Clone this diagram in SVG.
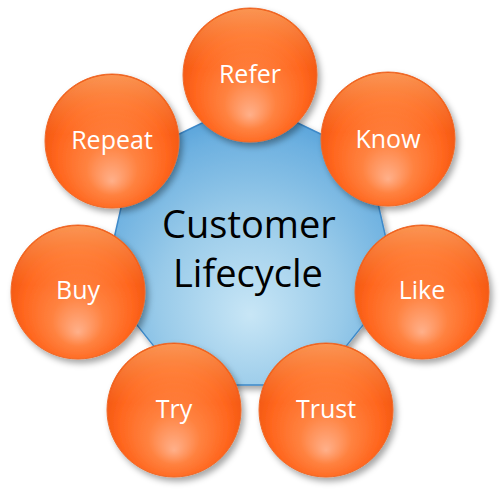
<svg xmlns="http://www.w3.org/2000/svg" width="500" height="491" viewBox="0 0 500 491">
  <defs>
    <radialGradient id="blueFill" cx="250" cy="290" r="185" fx="250" fy="315" gradientUnits="userSpaceOnUse">
      <stop offset="0" stop-color="#c8e6f6"/>
      <stop offset="0.5" stop-color="#98cae9"/>
      <stop offset="0.85" stop-color="#6cb0e0"/>
      <stop offset="1" stop-color="#529fd8"/>
    </radialGradient>
    <radialGradient id="orangeFill" cx="0.5" cy="0.55" r="0.55" fx="0.5" fy="0.8">
      <stop offset="0" stop-color="#ffb08a"/>
      <stop offset="0.35" stop-color="#ff8240"/>
      <stop offset="0.75" stop-color="#ff661e"/>
      <stop offset="1" stop-color="#f0540e"/>
    </radialGradient>
    <linearGradient id="orangeTop" x1="0" y1="0" x2="0" y2="1">
      <stop offset="0" stop-color="#ffb070" stop-opacity="0.7"/>
      <stop offset="0.45" stop-color="#ff9a55" stop-opacity="0"/>
      <stop offset="1" stop-color="#ff9a55" stop-opacity="0"/>
    </linearGradient>
    <filter id="shadow" x="-20%" y="-20%" width="150%" height="150%">
      <feDropShadow dx="3" dy="4" stdDeviation="3" flood-color="#000" flood-opacity="0.35"/>
    </filter>
  </defs>
  <style>
    .ball { fill: url(#orangeFill); stroke: #ee6a2a; stroke-width: 1; filter: url(#shadow); }
    .gloss { fill: url(#orangeTop); }
    .lbl { font-family: "Open Sans", "Liberation Sans", sans-serif; font-size: 25px; fill: #ffffff; text-anchor: middle; }
    .center { font-family: "Open Sans", "Liberation Sans", sans-serif; font-size: 38px; fill: #000000; text-anchor: middle; }
  </style>
  <rect width="500" height="491" fill="#ffffff"/>

  <g id="hub">
    <polygon points="250,100 367.3,156.5 396.2,283.4 315.1,385.1 184.9,385.1 103.8,283.4 132.7,156.5" fill="url(#blueFill)" stroke="#3d89c9" stroke-width="1.5" stroke-linejoin="round" filter="url(#shadow)"/>
    <text class="center" x="249" y="238">Customer</text>
    <text class="center" x="248" y="287">Lifecycle</text>
  </g>

  <g id="connectors"></g>

  <g id="node-refer">
    <circle class="ball" cx="250" cy="75" r="67"/>
    <circle class="gloss" cx="250" cy="75" r="66"/>
    <text class="lbl" x="250" y="83">Refer</text>
  </g>
  <g id="node-know">
    <circle class="ball" cx="388" cy="139" r="67"/>
    <circle class="gloss" cx="388" cy="139" r="66"/>
    <text class="lbl" x="388" y="148">Know</text>
  </g>
  <g id="node-like">
    <circle class="ball" cx="422" cy="292" r="67"/>
    <circle class="gloss" cx="422" cy="292" r="66"/>
    <text class="lbl" x="422" y="299">Like</text>
  </g>
  <g id="node-trust">
    <circle class="ball" cx="326" cy="410" r="67"/>
    <circle class="gloss" cx="326" cy="410" r="66"/>
    <text class="lbl" x="326" y="418">Trust</text>
  </g>
  <g id="node-try">
    <circle class="ball" cx="174" cy="410" r="67"/>
    <circle class="gloss" cx="174" cy="410" r="66"/>
    <text class="lbl" x="174" y="418">Try</text>
  </g>
  <g id="node-buy">
    <circle class="ball" cx="78" cy="292" r="67"/>
    <circle class="gloss" cx="78" cy="292" r="66"/>
    <text class="lbl" x="78" y="299">Buy</text>
  </g>
  <g id="node-repeat">
    <circle class="ball" cx="112" cy="141" r="67"/>
    <circle class="gloss" cx="112" cy="141" r="66"/>
    <text class="lbl" x="112" y="149">Repeat</text>
  </g>
</svg>
